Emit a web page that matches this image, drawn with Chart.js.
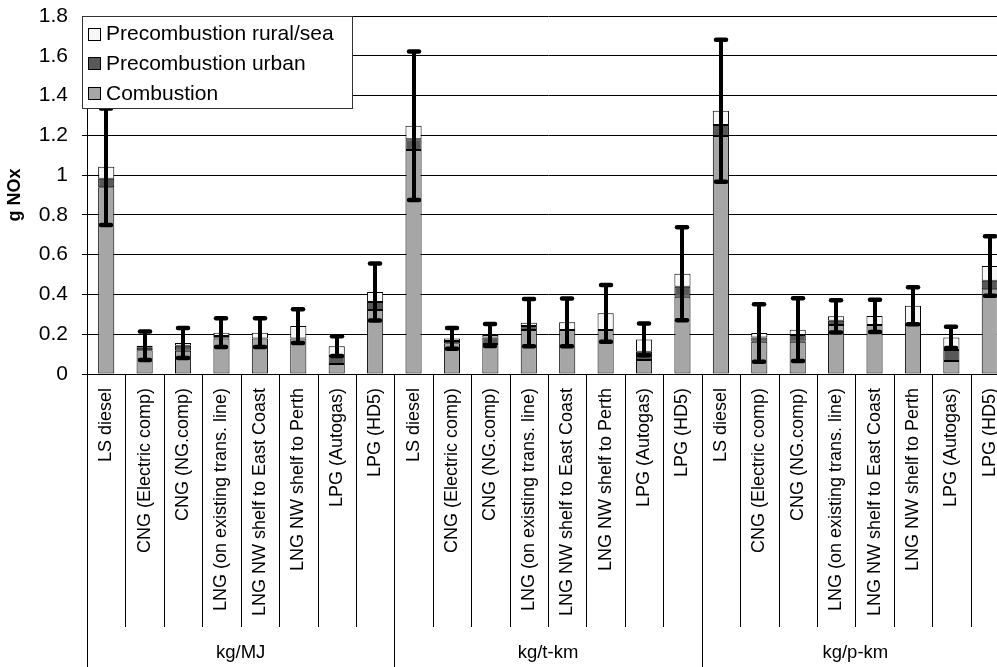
<!DOCTYPE html>
<html><head><meta charset="utf-8">
<script src="https://cdn.jsdelivr.net/npm/chart.js@4.4.1/dist/chart.umd.min.js"></script>
<style>
html,body{margin:0;padding:0;background:#fff;overflow:hidden}
#wrap{width:997px;height:667px;overflow:hidden;position:relative}
canvas{display:block}
</style></head><body>
<div id="wrap"><canvas id="c" width="1027" height="667"></canvas></div>
<script>
const fuels = ['LS diesel','CNG (Electric comp)','CNG (NG.comp)','LNG (on existing trans. line)','LNG NW shelf to East Coast','LNG NW shelf to Perth','LPG (Autogas)','LPG (HD5)'];
const groups = ['kg/MJ','kg/t-km','kg/p-km'];
const categories = groups.flatMap(() => fuels);
const seriesNames = ['Combustion','Precombustion urban','Precombustion rural/sea'];
const combustion = [
  0.939,0.120,0.117,0.178,0.178,0.178,0.050,0.322,
  1.126,0.154,0.151,0.221,0.221,0.221,0.070,0.389,
  1.197,0.162,0.162,0.246,0.246,0.246,0.065,0.426];
const urban = [
  0.043,0.012,0.025,0.013,0.000,0.000,0.040,0.040,
  0.054,0.012,0.032,0.020,0.000,0.000,0.042,0.050,
  0.055,0.021,0.034,0.022,0.000,0.000,0.056,0.043];
const rural = [
  0.060,0.010,0.014,0.017,0.030,0.063,0.050,0.050,
  0.068,0.013,0.013,0.017,0.039,0.084,0.062,0.065,
  0.072,0.023,0.027,0.022,0.046,0.097,0.063,0.074];
const errors = [
  0.293,0.072,0.075,0.072,0.072,0.085,0.050,0.143,
  0.373,0.052,0.055,0.119,0.120,0.143,0.080,0.234,
  0.357,0.145,0.158,0.081,0.081,0.093,0.053,0.150];
const yTickLabels = ['0','0.2','0.4','0.6','0.8','1','1.2','1.4','1.6','1.8'];

const FONT = '"Liberation Sans", Arial, sans-serif';
const colors = ['#a6a6a6','#595959','#f7f7f7'];

const extras = {
  id: 'extras',
  afterDatasetsDraw(chart) {
    const ctx = chart.ctx, xs = chart.scales.x, ys = chart.scales.y;
    ctx.save();
    ctx.strokeStyle = '#000';
    for (let i = 0; i < categories.length; i++) {
      const total = combustion[i] + urban[i] + rural[i];
      const x = Math.round(xs.getPixelForValue(i));
      const yt = ys.getPixelForValue(total + errors[i]);
      const yb = ys.getPixelForValue(total - errors[i]);
      ctx.lineWidth = 4; ctx.lineCap = 'butt';
      ctx.beginPath(); ctx.moveTo(x, yt); ctx.lineTo(x, yb); ctx.stroke();
      ctx.lineWidth = 4.5; ctx.lineCap = 'round';
      ctx.beginPath(); ctx.moveTo(x - 5, yt); ctx.lineTo(x + 5, yt); ctx.stroke();
      ctx.beginPath(); ctx.moveTo(x - 5, yb); ctx.lineTo(x + 5, yb); ctx.stroke();
    }
    ctx.restore();
  },
  afterDraw(chart) {
    const ctx = chart.ctx, xs = chart.scales.x, area = chart.chartArea;
    ctx.save();
    const cw = xs.getPixelForValue(1) - xs.getPixelForValue(0);
    ctx.strokeStyle = '#000'; ctx.lineWidth = 1;
    for (let i = 0; i <= categories.length; i++) {
      const x = Math.round(xs.getPixelForValue(i) - cw / 2) + 0.5;
      const yEnd = (i % fuels.length === 0) ? 667 : 627;
      ctx.beginPath(); ctx.moveTo(x, area.bottom); ctx.lineTo(x, yEnd); ctx.stroke();
    }
    ctx.fillStyle = '#000';
    ctx.font = '18.5px ' + FONT;
    ctx.textAlign = 'center'; ctx.textBaseline = 'middle';
    groups.forEach((g, k) => {
      const a = xs.getPixelForValue(k * fuels.length);
      const b = xs.getPixelForValue(k * fuels.length + fuels.length - 1);
      ctx.fillText(g, (a + b) / 2, 653);
    });
    ctx.fillStyle = '#fff'; ctx.strokeStyle = '#333'; ctx.lineWidth = 1;
    ctx.fillRect(82, 16, 270, 92);
    ctx.strokeRect(82.5, 16.5, 270, 92);
    const ds = chart.data.datasets.slice().reverse();
    ctx.font = '21px ' + FONT; ctx.textAlign = 'left'; ctx.textBaseline = 'middle';
    ds.forEach((d, j) => {
      const cy = 33.5 + j * 29.7;
      ctx.fillStyle = d.backgroundColor; ctx.strokeStyle = '#000';
      ctx.fillRect(88.5, Math.round(cy - 6) + 0.5, 12, 12);
      ctx.strokeRect(88.5, Math.round(cy - 6) + 0.5, 12, 12);
      ctx.fillStyle = '#000';
      ctx.fillText(d.label, 106, cy + 1);
    });
    ctx.restore();
  }
};

new Chart(document.getElementById('c'), {
  type: 'bar',
  data: {
    labels: categories,
    datasets: [
      { label: seriesNames[0], data: combustion, backgroundColor: colors[0] },
      { label: seriesNames[1], data: urban, backgroundColor: colors[1] },
      { label: seriesNames[2], data: rural, backgroundColor: colors[2] }
    ].map(d => Object.assign(d, { borderColor: '#000', borderWidth: 1, borderSkipped: false, barPercentage: 0.42, categoryPercentage: 1.0 }))
  },
  options: {
    responsive: false, animation: false, devicePixelRatio: 1,
    layout: { padding: { top: 16, right: 18, bottom: 0, left: 0 } },
    plugins: { legend: { display: false }, tooltip: { enabled: false } },
    scales: {
      x: {
        stacked: true, offset: true,
        grid: { display: true, drawOnChartArea: false, drawTicks: false },
        border: { display: true, color: '#000', width: 1 },
        ticks: { autoSkip: false, minRotation: 90, maxRotation: 90, padding: 14, color: '#000', font: { size: 18, family: FONT } },
        afterFit: s => { s.height = 293; s.paddingLeft = 0; s.paddingRight = 0; s.paddingTop = 0; s.paddingBottom = 0; }
      },
      y: {
        stacked: true, min: 0, max: 1.8,
        grid: { color: '#000', tickLength: 5 },
        border: { display: true, color: '#000', width: 1 },
        ticks: { stepSize: 0.2, padding: 14, color: '#000', font: { size: 21, family: FONT },
                 callback: (v, i) => yTickLabels[i] },
        title: { display: true, text: 'g NOx', color: '#000', font: { size: 18, weight: 'bold', family: FONT }, padding: { top: 4, bottom: 0 } },
        afterFit: s => { s.width = 87; s.paddingLeft = 0; s.paddingRight = 0; s.paddingTop = 0; s.paddingBottom = 0; }
      }
    }
  },
  plugins: [extras]
});
</script>
</body></html>
